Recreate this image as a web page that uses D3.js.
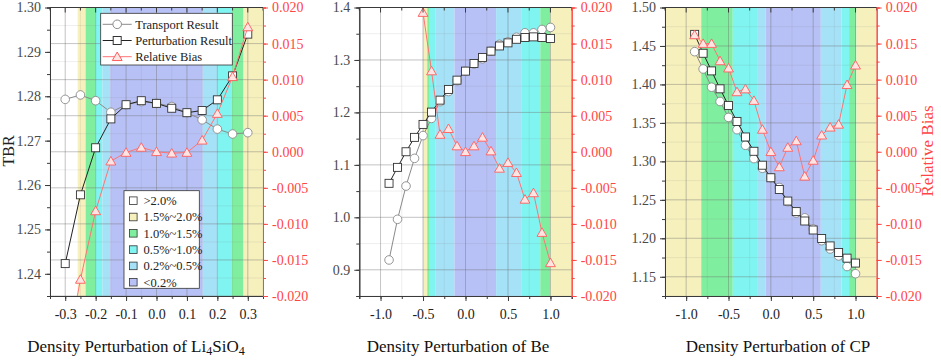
<!DOCTYPE html>
<html>
<head>
<meta charset="utf-8">
<script src="https://cdn.jsdelivr.net/npm/d3@7"></script>
<style>
  body { margin: 0; background: #fff; }
  svg { display: block; font-family: "Liberation Serif", "Times New Roman", serif; }
</style>
</head>
<body>
<script>
// ---- data ----
const liX = [-0.3, -0.25, -0.2, -0.15, -0.1, -0.05, 0, 0.05, 0.1, 0.15, 0.2, 0.25, 0.3]
const liTransport = [1.2793, 1.2803, 1.2790, 1.2764, 1.2781, 1.2788, 1.2784, 1.2777, 1.2763, 1.2747, 1.2726, 1.2715, 1.2718]
const liPerturb = [1.2423, 1.2578, 1.2684, 1.2749, 1.2781, 1.2790, 1.2784, 1.2773, 1.2763, 1.2768, 1.2792, 1.2846, 1.2940]
const liBias = [-0.0290, -0.0177, -0.0082, -0.0013, -0.0001, 0.0006, 0.0000, -0.0002, -0.0001, 0.0016, 0.0053, 0.0104, 0.0173]

const beX = [-0.9, -0.8, -0.7, -0.6, -0.5, -0.4, -0.3, -0.2, -0.1, 0, 0.1, 0.2, 0.3, 0.4, 0.5, 0.6, 0.7, 0.8, 0.9, 1.0]
const beTransport = [0.9187, 0.9962, 1.0596, 1.1124, 1.1558, 1.1886, 1.2205, 1.2398, 1.2605, 1.2787, 1.2923, 1.3022, 1.3167, 1.3298, 1.3346, 1.3433, 1.3518, 1.3517, 1.3581, 1.3620]
const bePerturb = [1.0648, 1.0952, 1.1250, 1.1524, 1.1771, 1.2006, 1.2234, 1.2438, 1.2615, 1.2787, 1.2933, 1.3048, 1.3168, 1.3267, 1.3326, 1.3394, 1.3429, 1.3440, 1.3429, 1.3410]
const beBias = [0.159, 0.099, 0.062, 0.036, 0.0193, 0.0112, 0.0024, 0.0032, 0.0008, 0.0000, 0.0008, 0.0020, 0.0001, -0.0023, -0.0015, -0.0029, -0.0066, -0.0057, -0.0112, -0.0154]

const cpX = [-0.9, -0.8, -0.7, -0.6, -0.5, -0.4, -0.3, -0.2, -0.1, 0, 0.1, 0.2, 0.3, 0.4, 0.5, 0.6, 0.7, 0.8, 0.9, 1.0]
const cpTransport = [1.4426, 1.4201, 1.3964, 1.3778, 1.3571, 1.3412, 1.3209, 1.3036, 1.2910, 1.2787, 1.2661, 1.2476, 1.2328, 1.2266, 1.2123, 1.1969, 1.1861, 1.1771, 1.1633, 1.1540]
const cpPerturb = [1.4651, 1.4405, 1.4176, 1.3943, 1.3727, 1.3519, 1.3317, 1.3131, 1.2950, 1.2787, 1.2635, 1.2484, 1.2347, 1.2225, 1.2108, 1.1997, 1.1901, 1.1816, 1.1742, 1.1678]
const cpBias = [0.0162, 0.0150, 0.0150, 0.0126, 0.0116, 0.0083, 0.0087, 0.0071, 0.0031, 0.0000, -0.0021, 0.0006, 0.0015, -0.0034, -0.0012, 0.0023, 0.0034, 0.0038, 0.0093, 0.0120]

// bias classes: [from, to, class index]
const bandLabels = ['>2.0%', '1.5%~2.0%', '1.0%~1.5%', '0.5%~1.0%', '0.2%~0.5%', '<0.2%']
const liBands = [[-0.35, -0.259, 0], [-0.259, -0.233, 1], [-0.233, -0.2, 2], [-0.2, -0.178, 3], [-0.178, -0.152, 4],
  [-0.152, 0.152, 5], [0.152, 0.2, 4], [0.2, 0.248, 3], [0.248, 0.286, 2], [0.286, 0.35, 1]]
const beBands = [[-1.25, -0.5, 0], [-0.5, -0.45, 1], [-0.45, -0.42, 2], [-0.42, -0.35, 3], [-0.35, -0.13, 4],
  [-0.13, 0.36, 5], [0.36, 0.655, 4], [0.655, 0.88, 3], [0.88, 1.0, 2], [1.0, 1.25, 1]]
const cpBands = [[-1.25, -0.822, 1], [-0.822, -0.45, 2], [-0.45, -0.153, 3], [-0.153, -0.06, 4],
  [-0.06, 0.59, 5], [0.59, 0.834, 4], [0.834, 0.924, 3], [0.924, 1.01, 2], [1.01, 1.25, 1]]

const liXTicks = [-0.3, -0.2, -0.1, 0.0, 0.1, 0.2, 0.3]
const wideXTicks = [-1.0, -0.5, 0.0, 0.5, 1.0]
const liYTicks = [1.24, 1.25, 1.26, 1.27, 1.28, 1.29, 1.30]
const beYTicks = [0.9, 1.0, 1.1, 1.2, 1.3, 1.4]
const cpYTicks = [1.15, 1.20, 1.25, 1.30, 1.35, 1.40, 1.45, 1.50]
const biasTicks = [-0.020, -0.015, -0.010, -0.005, 0.000, 0.005, 0.010, 0.015, 0.020]

const seriesNames = ['Transport Result', 'Perturbation Result', 'Relative Bias']

// ---- styling ----
const width = 941
const height = 360
const plotTop = 7.5
const plotBottom = 296
const bandColors = ['#ffffff', '#f6f0bd', '#80ee9f', '#80f4f1', '#a6e2f7', '#b8c1f6']
const red = '#ff4545'
const axisGray = '#3a3a3a'
const labelGray = '#4a4a4a'

const svg = d3.select('body').append('svg')
  .attr('width', width)
  .attr('height', height)

const panels = [
  { id: 'li', x0: 50, x1: 263, xDom: [-0.35, 0.35], yDom: [1.235, 1.30],
    xs: liX, tr: liTransport, pe: liPerturb, bi: liBias, bands: liBands,
    xTicks: liXTicks, xMinor: 0.05, yTicks: liYTicks, yMinor: 0.005, yFmt: '.2f', gridRight: true },
  { id: 'be', x0: 359.3, x1: 571.7, xDom: [-1.25, 1.25], yDom: [0.85, 1.40],
    xs: beX, tr: beTransport, pe: bePerturb, bi: beBias, bands: beBands,
    xTicks: wideXTicks, xMinor: 0.25, yTicks: beYTicks, yMinor: 0.05, yFmt: '.1f', gridRight: false },
  { id: 'cp', x0: 665, x1: 876.7, xDom: [-1.25, 1.25], yDom: [1.125, 1.50],
    xs: cpX, tr: cpTransport, pe: cpPerturb, bi: cpBias, bands: cpBands,
    xTicks: wideXTicks, xMinor: 0.25, yTicks: cpYTicks, yMinor: 0.025, yFmt: '.2f', gridRight: false }
]

const minorRange = (dom, step) => {
  const out = []
  for (let v = Math.ceil(dom[0] / step - 1e-9) * step; v <= dom[1] + 1e-9; v += step) out.push(+v.toFixed(6))
  return out
}

const drawPanel = (p) => {
  const g = svg.append('g').attr('id', p.id)
  const x = d3.scaleLinear().domain(p.xDom).range([p.x0, p.x1])
  const y = d3.scaleLinear().domain(p.yDom).range([plotBottom, plotTop])
  const yr = d3.scaleLinear().domain([-0.02, 0.02]).range([plotBottom, plotTop])

  g.append('clipPath').attr('id', 'clip-' + p.id)
    .append('rect')
    .attr('x', p.x0).attr('y', plotTop)
    .attr('width', p.x1 - p.x0).attr('height', plotBottom - plotTop)

  // coloured bias classes
  g.append('g').selectAll('rect')
    .data(p.bands)
    .enter()
    .append('rect')
    .attr('x', d => x(d[0]))
    .attr('width', d => x(d[1]) - x(d[0]))
    .attr('y', plotTop)
    .attr('height', plotBottom - plotTop)
    .attr('fill', d => bandColors[d[2]])

  // grid
  const grid = g.append('g').attr('stroke-width', 0.8)
  const xMinorVals = minorRange(p.xDom, p.xMinor)
  grid.selectAll('.vmin').data(xMinorVals).enter().append('line')
    .attr('x1', d => x(d)).attr('x2', d => x(d)).attr('y1', plotTop).attr('y2', plotBottom)
    .attr('stroke', 'rgba(120,120,120,0.15)')
  grid.selectAll('.vmaj').data(p.xTicks).enter().append('line')
    .attr('x1', d => x(d)).attr('x2', d => x(d)).attr('y1', plotTop).attr('y2', plotBottom)
    .attr('stroke', 'rgba(110,110,110,0.4)')

  const hScale = p.gridRight ? yr : y
  const hTicks = p.gridRight ? biasTicks : p.yTicks
  const hMinor = p.gridRight ? minorRange([-0.02, 0.02], 0.0025) : minorRange(p.yDom, p.yMinor)
  grid.selectAll('.hmin').data(hMinor).enter().append('line')
    .attr('x1', p.x0).attr('x2', p.x1).attr('y1', d => hScale(d)).attr('y2', d => hScale(d))
    .attr('stroke', 'rgba(120,120,120,0.15)')
  grid.selectAll('.hmaj').data(hTicks).enter().append('line')
    .attr('x1', p.x0).attr('x2', p.x1).attr('y1', d => hScale(d)).attr('y2', d => hScale(d))
    .attr('stroke', 'rgba(110,110,110,0.4)')

  const idx = d3.range(p.xs.length)

  // transport result
  g.append('path')
    .attr('d', d3.line().x(i => x(p.xs[i])).y(i => y(p.tr[i]))(idx))
    .attr('fill', 'none').attr('stroke', '#8a8a8a').attr('stroke-width', 1)
  g.append('g').selectAll('circle').data(idx).enter().append('circle')
    .attr('cx', i => x(p.xs[i])).attr('cy', i => y(p.tr[i])).attr('r', 4.3)
    .attr('fill', '#fff').attr('stroke', '#8a8a8a').attr('stroke-width', 0.9)

  // perturbation result
  g.append('path')
    .attr('d', d3.line().x(i => x(p.xs[i])).y(i => y(p.pe[i]))(idx))
    .attr('fill', 'none').attr('stroke', '#222').attr('stroke-width', 1)
  g.append('g').selectAll('rect').data(idx).enter().append('rect')
    .attr('x', i => x(p.xs[i]) - 4).attr('y', i => y(p.pe[i]) - 4)
    .attr('width', 8).attr('height', 8)
    .attr('fill', '#fff').attr('stroke', '#333').attr('stroke-width', 0.9)

  // relative bias
  const bg = g.append('g').attr('clip-path', `url(#clip-${p.id})`)
  bg.append('path')
    .attr('d', d3.line().x(i => x(p.xs[i])).y(i => yr(p.bi[i]))(idx))
    .attr('fill', 'none').attr('stroke', '#ff7373').attr('stroke-width', 1)
  bg.selectAll('.tri').data(idx.filter(i => Math.abs(p.bi[i]) <= 0.0205)).enter().append('path')
    .attr('d', d3.symbol(d3.symbolTriangle).size(42))
    .attr('transform', i => `translate(${x(p.xs[i])},${yr(p.bi[i]) + 1})`)
    .attr('fill', '#ffe4e4').attr('stroke', '#ff5c5c').attr('stroke-width', 0.9)

  // top border with inward ticks
  g.append('line').attr('x1', p.x0).attr('x2', p.x1).attr('y1', plotTop).attr('y2', plotTop)
    .attr('stroke', axisGray).attr('stroke-width', 1)
  g.append('g').selectAll('line').data(xMinorVals).enter().append('line')
    .attr('x1', d => x(d)).attr('x2', d => x(d)).attr('y1', plotTop)
    .attr('y2', d => plotTop + (p.xTicks.some(t => Math.abs(t - d) < 1e-6) ? 5 : 3))
    .attr('stroke', axisGray).attr('stroke-width', 1)

  // bottom axis
  const gx = g.append('g').attr('transform', `translate(0,${plotBottom})`)
  gx.append('g').call(d3.axisBottom(x).tickValues(xMinorVals).tickSize(3).tickFormat(''))
  gx.append('g').call(d3.axisBottom(x).tickValues(p.xTicks).tickSize(5).tickSizeOuter(0)
    .tickFormat(d => d3.format('.1f')(d).replace('\u2212', '-')))
  gx.selectAll('path.domain').attr('stroke', axisGray)
  gx.selectAll('line').attr('stroke', axisGray)
  gx.selectAll('text').attr('font-size', 14).attr('fill', '#222').attr('dy', '1.05em')
    .attr('font-family', '"Liberation Serif", serif')

  // left axis
  const gy = g.append('g').attr('transform', `translate(${p.x0},0)`)
  gy.append('g').call(d3.axisLeft(y).tickValues(minorRange(p.yDom, p.yMinor)).tickSize(3).tickFormat(''))
  gy.append('g').call(d3.axisLeft(y).tickValues(p.yTicks).tickSize(5).tickSizeOuter(0)
    .tickFormat(d3.format(p.yFmt)))
  gy.selectAll('path.domain').attr('stroke', axisGray)
  gy.selectAll('line').attr('stroke', axisGray)
  gy.selectAll('text').attr('font-size', 14).attr('fill', labelGray).attr('x', -9)
    .attr('font-family', '"Liberation Serif", serif')

  // right axis
  const gr = g.append('g').attr('transform', `translate(${p.x1},0)`)
  gr.append('g').call(d3.axisRight(yr).tickValues(minorRange([-0.02, 0.02], 0.0025)).tickSize(3).tickFormat(''))
  gr.append('g').call(d3.axisRight(yr).tickValues(biasTicks).tickSize(5).tickSizeOuter(0)
    .tickFormat(d => d3.format('.3f')(d).replace('\u2212', '-')))
  gr.selectAll('path.domain').attr('stroke', red)
  gr.selectAll('line').attr('stroke', red)
  gr.selectAll('text').attr('font-size', 14).attr('fill', red).attr('x', 9)
    .attr('font-family', '"Liberation Serif", serif')
}

panels.forEach(drawPanel)

// ---- legend: series (panel 1) ----
const lg = svg.append('g').attr('transform', 'translate(100.7,13.3)')
lg.append('rect').attr('width', 131.6).attr('height', 51.7)
  .attr('fill', '#fff').attr('stroke', '#333').attr('stroke-width', 0.8)
const legendRows = lg.selectAll('g.row').data(seriesNames).enter().append('g')
  .attr('transform', (d, i) => `translate(0,${11 + i * 16.2})`)
legendRows.append('line').attr('x1', 2).attr('x2', 31).attr('y1', 0).attr('y2', 0)
  .attr('stroke', (d, i) => ['#8a8a8a', '#222', '#ff7373'][i]).attr('stroke-width', 1)
legendRows.each(function (d, i) {
  const r = d3.select(this)
  if (i === 0) r.append('circle').attr('cx', 16.5).attr('r', 4.3).attr('fill', '#fff').attr('stroke', '#8a8a8a')
  if (i === 1) r.append('rect').attr('x', 12.5).attr('y', -4).attr('width', 8).attr('height', 8).attr('fill', '#fff').attr('stroke', '#333')
  if (i === 2) r.append('path').attr('d', d3.symbol(d3.symbolTriangle).size(42)).attr('transform', 'translate(16.5,1)')
    .attr('fill', '#ffe4e4').attr('stroke', '#ff5c5c')
})
legendRows.append('text').attr('x', 34.5).attr('y', 4.3).attr('font-size', 12.5).attr('fill', '#222').text(d => d)

// ---- legend: bias classes (panel 1) ----
const bl = svg.append('g').attr('transform', 'translate(124,190.7)')
bl.append('rect').attr('width', 75.3).attr('height', 97.6)
  .attr('fill', '#fff').attr('stroke', '#333').attr('stroke-width', 0.8)
const bandRows = bl.selectAll('g.row').data(bandLabels).enter().append('g')
  .attr('transform', (d, i) => `translate(0,${10 + i * 16.3})`)
bandRows.append('rect').attr('x', 5.5).attr('y', -3.8).attr('width', 7.6).attr('height', 7.6)
  .attr('fill', (d, i) => bandColors[i]).attr('stroke', '#333').attr('stroke-width', 0.8)
bandRows.append('text').attr('x', 19.5).attr('y', 4.3).attr('font-size', 12.5).attr('fill', '#222').text(d => d)

// ---- axis titles ----
svg.append('text').attr('transform', 'translate(14,151) rotate(-90)')
  .attr('text-anchor', 'middle').attr('font-size', 16).attr('fill', '#222').text('TBR')
svg.append('text').attr('transform', 'translate(933,151) rotate(-90)')
  .attr('text-anchor', 'middle').attr('font-size', 17).attr('fill', red).text('Relative Bias')

const t1 = svg.append('text').attr('x', 136).attr('y', 352).attr('text-anchor', 'middle')
  .attr('font-size', 17).attr('fill', '#111')
t1.append('tspan').text('Density Perturbation of Li')
t1.append('tspan').attr('font-size', 12).attr('dy', 3).text('4')
t1.append('tspan').attr('dy', -3).text('SiO')
t1.append('tspan').attr('font-size', 12).attr('dy', 3).text('4')

svg.append('text').attr('x', 458).attr('y', 352).attr('text-anchor', 'middle')
  .attr('font-size', 17).attr('fill', '#111').text('Density Perturbation of Be')
svg.append('text').attr('x', 778).attr('y', 352).attr('text-anchor', 'middle')
  .attr('font-size', 17).attr('fill', '#111').text('Density Perturbation of CP')
</script>
</body>
</html>
